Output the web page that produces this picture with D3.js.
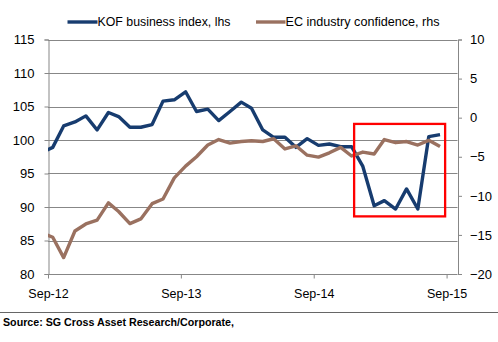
<!DOCTYPE html>
<html lang="en">
<head>
<meta charset="UTF-8">
<title>KOF vs EC industry confidence</title>
<script src="https://d3js.org/d3.v7.min.js"></script>
<style>
    body { margin: 0; background: #fff; }
    text { font-family: "Liberation Sans", Arial, sans-serif; fill: #000; }
</style>
</head>
<body>
<script>
    // monthly observations, Aug-12 .. Aug-15 (first one sits left of the axis and is clipped)
    var months = d3.timeMonth.range(new Date(2012, 7, 1), new Date(2015, 8, 1));
    var kof = [98.1, 98.9, 102.1, 102.7, 103.6, 101.5, 104.1, 103.5, 101.9, 101.9, 102.3, 105.8,
               106.0, 107.2, 104.25, 104.6, 102.9, 104.25, 105.65, 104.75, 101.5, 100.4, 100.4, 98.9,
               100.2, 99.2, 99.4, 99.0, 99.0, 96.05, 90.2, 90.95, 89.7, 92.7, 89.7, 100.5, 100.8];
    var ecConf = [-14.7, -15.3, -17.9, -14.5, -13.6, -13.1, -10.9, -12.0, -13.55, -12.95, -11.0, -10.4,
                  -7.7, -6.2, -5.0, -3.5, -2.8, -3.25, -3.05, -2.95, -3.05, -2.7, -4.0, -3.6,
                  -4.8, -5.05, -4.5, -3.8, -4.9, -4.4, -4.65, -2.8, -3.2, -3.05, -3.5, -2.9, -3.7];
    var leftTicks = [80, 85, 90, 95, 100, 105, 110, 115];
    var rightTicks = [-20, -15, -10, -5, 0, 5, 10];
    var xTicks = [new Date(2012, 8, 1), new Date(2013, 8, 1), new Date(2014, 8, 1), new Date(2015, 8, 1)];
    var legendNames = ["KOF business index, lhs", "EC industry confidence, rhs"];
    // highlighted window: start/end date and lhs value range
    var boxDates = [new Date(2014, 11, 21), new Date(2015, 7, 28)];
    var boxValues = [88.6, 102.4];

    var width = 498, height = 342;
    var plot = {left: 48, right: 457.5, top: 39.5, bottom: 274};
    var blue = "#173c6f", brown = "#9a7160", grid = "#878787";

    var rows = months.map(function (m, i) {
        return {date: d3.timeDay.offset(m, 13), kof: kof[i], ec: ecConf[i]};
    });

    var x = d3.scaleTime()
        .domain([new Date(2012, 8, 1), new Date(2015, 9, 1)])
        .range([plot.left, plot.right]);
    var yL = d3.scaleLinear().domain([80, 115]).range([plot.bottom, plot.top]);
    var yR = d3.scaleLinear().domain([-20, 10]).range([plot.bottom, plot.top]);

    var svg = d3.select("body").append("svg")
        .attr("width", width)
        .attr("height", height);

    svg.append("clipPath")
        .attr("id", "plot-area")
        .append("rect")
        .attr("x", plot.left)
        .attr("y", plot.top - 5)
        .attr("width", plot.right - plot.left)
        .attr("height", plot.bottom - plot.top + 10);

    // gridlines from lhs ticks
    svg.append("g")
        .selectAll("line")
        .data(leftTicks.slice(1))
        .enter()
        .append("line")
        .attr("x1", plot.left)
        .attr("x2", plot.right)
        .attr("y1", function (d) { return Math.round(yL(d)) + 0.5; })
        .attr("y2", function (d) { return Math.round(yL(d)) + 0.5; })
        .attr("stroke", grid)
        .attr("stroke-width", 1);

    var leftAxis = d3.axisLeft(yL).tickValues(leftTicks).tickSize(4).tickPadding(10);
    var gl = svg.append("g")
        .attr("transform", "translate(" + (plot.left + 0.5) + ",0)")
        .call(leftAxis);
    gl.selectAll("text").attr("font-size", "13px").attr("font-family", null);

    var rightAxis = d3.axisRight(yR).tickValues(rightTicks).tickSize(4).tickPadding(8);
    var gr = svg.append("g")
        .attr("transform", "translate(" + (plot.right + 0.5) + ",0)")
        .call(rightAxis);
    gr.selectAll("text").attr("font-size", "13px").attr("font-family", null);

    var bottomAxis = d3.axisBottom(x).tickValues(xTicks).tickFormat(d3.timeFormat("%b-%y"))
        .tickSize(4).tickPadding(11);
    var gb = svg.append("g")
        .attr("transform", "translate(0," + (plot.bottom + 0.5) + ")")
        .call(bottomAxis);
    gb.selectAll("text").attr("font-size", "12.5px").attr("font-family", null);

    [gl, gr, gb].forEach(function (g) {
        g.select(".domain").attr("stroke", grid);
        g.selectAll(".tick line").attr("stroke", grid);
    });
    gb.select(".domain").attr("d", "M" + plot.left + ",0H" + plot.right);

    var lineL = d3.line().x(function (d) { return x(d.date); }).y(function (d) { return yL(d.kof); });
    var lineR = d3.line().x(function (d) { return x(d.date); }).y(function (d) { return yR(d.ec); });

    var lines = svg.append("g").attr("clip-path", "url(#plot-area)");
    lines.append("path")
        .datum(rows)
        .attr("d", lineL)
        .attr("fill", "none")
        .attr("stroke", blue)
        .attr("stroke-width", 3.4)
        .attr("stroke-linejoin", "round");
    lines.append("path")
        .datum(rows)
        .attr("d", lineR)
        .attr("fill", "none")
        .attr("stroke", brown)
        .attr("stroke-width", 3.4)
        .attr("stroke-linejoin", "round");

    // red highlight box
    svg.append("rect")
        .attr("x", x(boxDates[0]))
        .attr("y", yL(boxValues[1]))
        .attr("width", x(boxDates[1]) - x(boxDates[0]))
        .attr("height", yL(boxValues[0]) - yL(boxValues[1]))
        .attr("fill", "none")
        .attr("stroke", "#ff0000")
        .attr("stroke-width", 2.3);

    // legend
    var legendX = [[67.5, 97.5, 133], [256, 285.5, 154]];
    var legend = svg.append("g")
        .selectAll("g")
        .data(legendNames)
        .enter()
        .append("g");
    legend.append("line")
        .attr("x1", function (d, i) { return legendX[i][0]; })
        .attr("x2", function (d, i) { return legendX[i][1]; })
        .attr("y1", 22)
        .attr("y2", 22)
        .attr("stroke", function (d, i) { return i === 0 ? blue : brown; })
        .attr("stroke-width", 3.4);
    legend.append("text")
        .attr("x", function (d, i) { return legendX[i][1]; })
        .attr("y", 26)
        .attr("font-size", "13px")
        .attr("textLength", function (d, i) { return legendX[i][2]; })
        .attr("lengthAdjust", "spacingAndGlyphs")
        .text(function (d) { return d; });

    // footer
    svg.append("line")
        .attr("x1", 0)
        .attr("x2", width)
        .attr("y1", 312.5)
        .attr("y2", 312.5)
        .attr("stroke", "#666")
        .attr("stroke-width", 1);
    svg.append("text")
        .attr("x", 3)
        .attr("y", 326)
        .attr("font-size", "11px")
        .attr("font-weight", "bold")
        .attr("textLength", 231)
        .attr("lengthAdjust", "spacingAndGlyphs")
        .text("Source: SG Cross Asset Research/Corporate,");
</script>
</body>
</html>
